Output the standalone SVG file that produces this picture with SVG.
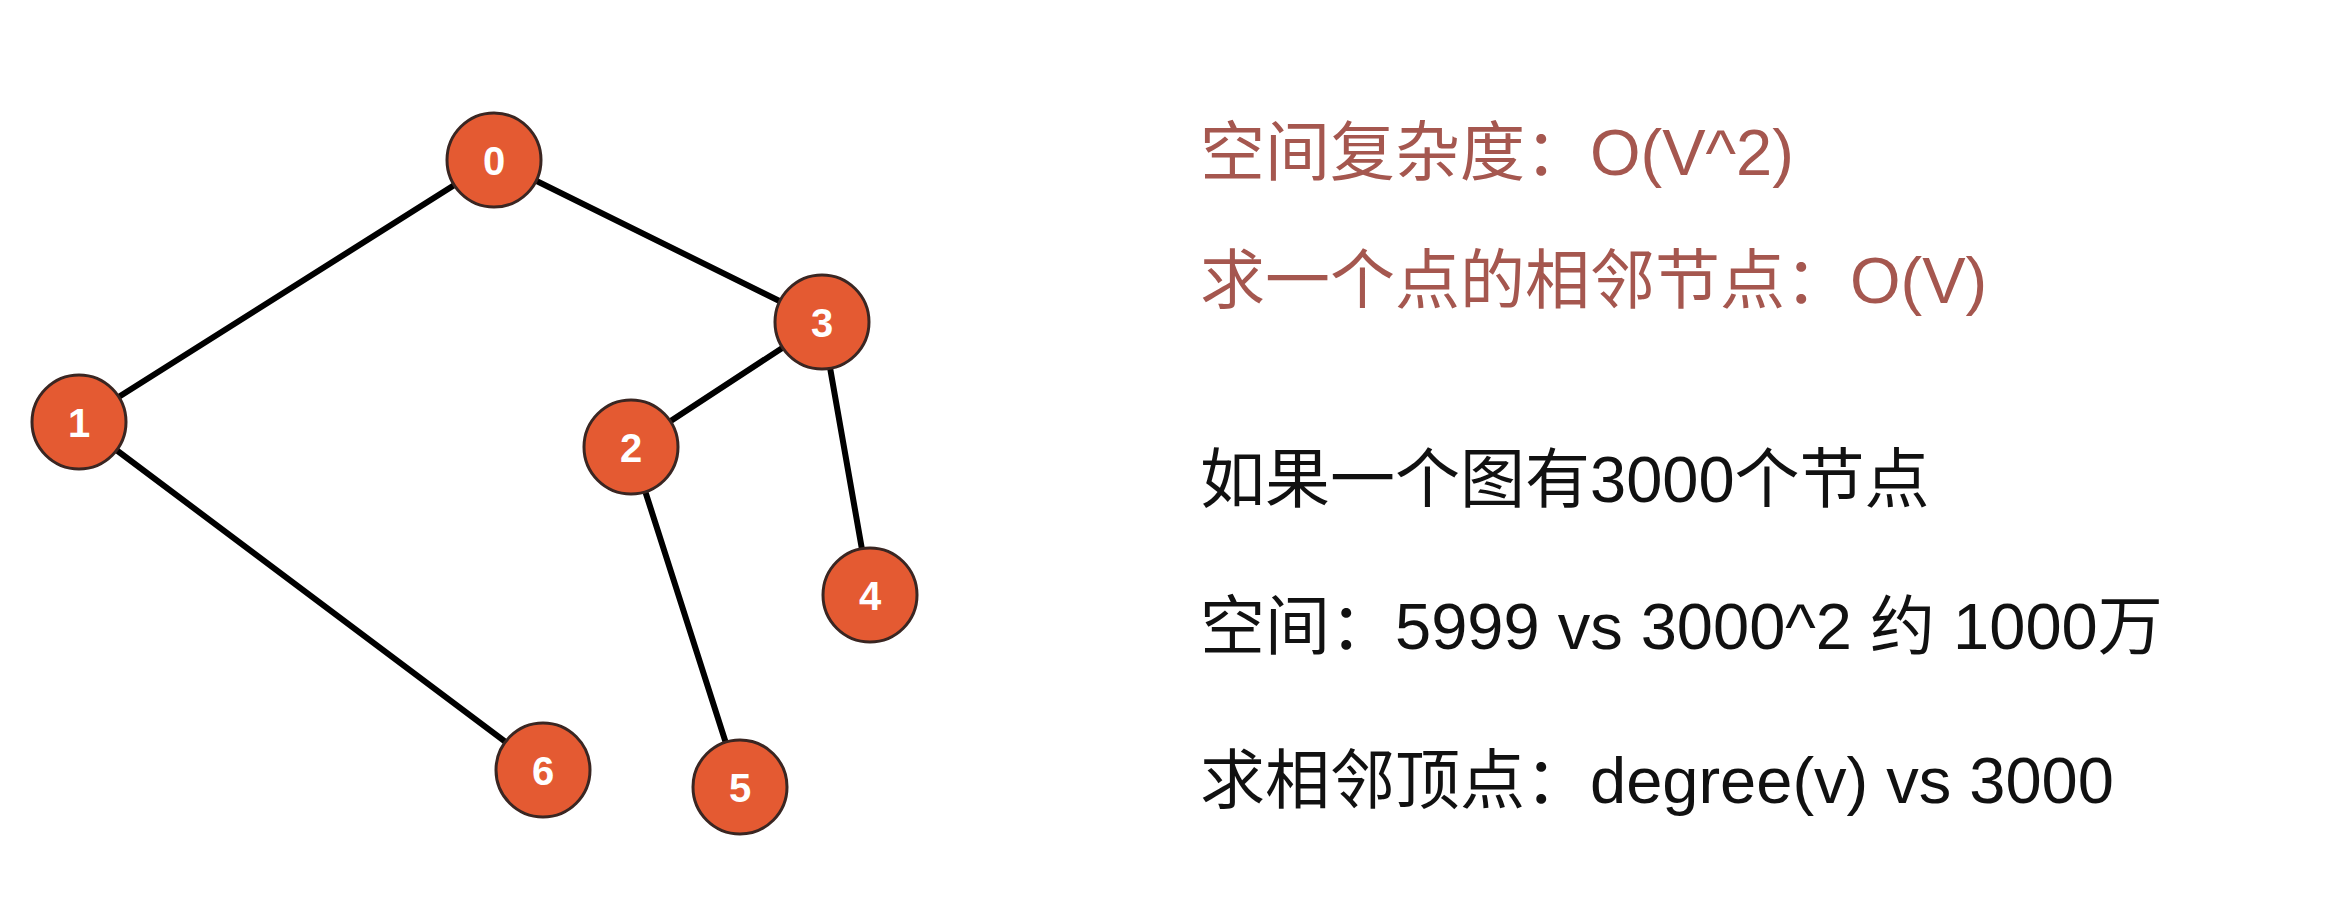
<svg xmlns="http://www.w3.org/2000/svg" width="2344" height="904" viewBox="0 0 2344 904">
<style>
.edge{stroke:#000;stroke-width:6;stroke-linecap:round;fill:none}
.node circle{fill:#E45A32;stroke:#3a2622;stroke-width:3}
.node text{font-family:"Liberation Sans",Arial,sans-serif;font-weight:bold;font-size:40px;fill:#fff;text-anchor:middle}
.t{font-family:"Liberation Sans","Noto Sans CJK SC",sans-serif;font-size:65px}
.red{fill:#A5574F}
.blk{fill:#111}
</style>
<rect width="2344" height="904" fill="#fff"/>
<g id="connectors">
<line class="edge" x1="494" y1="160" x2="79" y2="422"/>
<line class="edge" x1="494" y1="160" x2="822" y2="322"/>
<line class="edge" x1="822" y1="322" x2="631" y2="447"/>
<line class="edge" x1="822" y1="322" x2="870" y2="595"/>
<line class="edge" x1="79" y1="422" x2="543" y2="770"/>
<line class="edge" x1="631" y1="447" x2="740" y2="787"/>
</g>
<g id="node0" class="node"><circle cx="494" cy="160" r="47"/><text x="494" y="175">0</text></g>
<g id="node1" class="node"><circle cx="79" cy="422" r="47"/><text x="79" y="437">1</text></g>
<g id="node2" class="node"><circle cx="631" cy="447" r="47"/><text x="631" y="462">2</text></g>
<g id="node3" class="node"><circle cx="822" cy="322" r="47"/><text x="822" y="337">3</text></g>
<g id="node4" class="node"><circle cx="870" cy="595" r="47"/><text x="870" y="610">4</text></g>
<g id="node5" class="node"><circle cx="740" cy="787" r="47"/><text x="740" y="802">5</text></g>
<g id="node6" class="node"><circle cx="543" cy="770" r="47"/><text x="543" y="785">6</text></g>
<g id="notes">
<text class="t red" x="1200" y="175">空间复杂度：O(V^2)</text>
<text class="t red" x="1200" y="303">求一个点的相邻节点：O(V)</text>
<text class="t blk" x="1200" y="502">如果一个图有3000个节点</text>
<text class="t blk" x="1200" y="649">空间：5999 vs 3000^2 约 1000万</text>
<text class="t blk" x="1200" y="803">求相邻顶点：degree(v) vs 3000</text>
</g>
</svg>
